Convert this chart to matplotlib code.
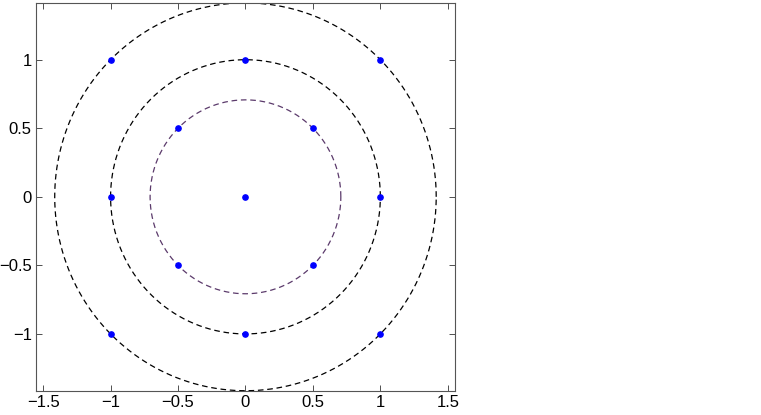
import numpy as np
import matplotlib.pyplot as plt

# circle radii and their colours
radii = [np.sqrt(0.5), 1.0, np.sqrt(2.0)]
circle_colors = ['#5b3a6b', 'black', 'black']

# points
px = [0, 0.5, -0.5, 0.5, -0.5, 1, -1, 0, 0, 1, -1, 1, -1]
py = [0, 0.5, 0.5, -0.5, -0.5, 0, 0, 1, -1, 1, 1, -1, -1]

xticks = [-1.5, -1, -0.5, 0, 0.5, 1, 1.5]
yticks = [-1, -0.5, 0, 0.5, 1]

plt.rcParams['font.family'] = ['Liberation Sans', 'DejaVu Sans']

fig = plt.figure(figsize=(7.61, 4.15), dpi=100)
ax = fig.add_axes([0.0473, 0.0585, 0.5505, 0.9345])

t = np.linspace(0, 2 * np.pi, 600)
for r, c in zip(radii, circle_colors):
    ax.plot(r * np.cos(t), r * np.sin(t), color=c, lw=0.9, dashes=(4.5, 3))

ax.plot(px, py, 'o', color='blue', ms=3.8, ls='none')

ax.set_xlim(-1.553, 1.553)
ax.set_ylim(-np.sqrt(2), np.sqrt(2))
ax.set_xticks(xticks)
ax.set_yticks(yticks)
ax.set_xticklabels(['\u22121.5', '\u22121', '\u22120.5', '0', '0.5', '1', '1.5'])
ax.set_yticklabels(['\u22121', '\u22120.5', '0', '0.5', '1'])
ax.tick_params(direction='in', top=True, right=True, length=4, width=0.6,
               labelsize=12, colors='#333333', labelcolor='black', pad=3)
for s in ax.spines.values():
    s.set_color('#555555')
    s.set_linewidth(0.8)

fig.savefig('out.png', dpi=100)
